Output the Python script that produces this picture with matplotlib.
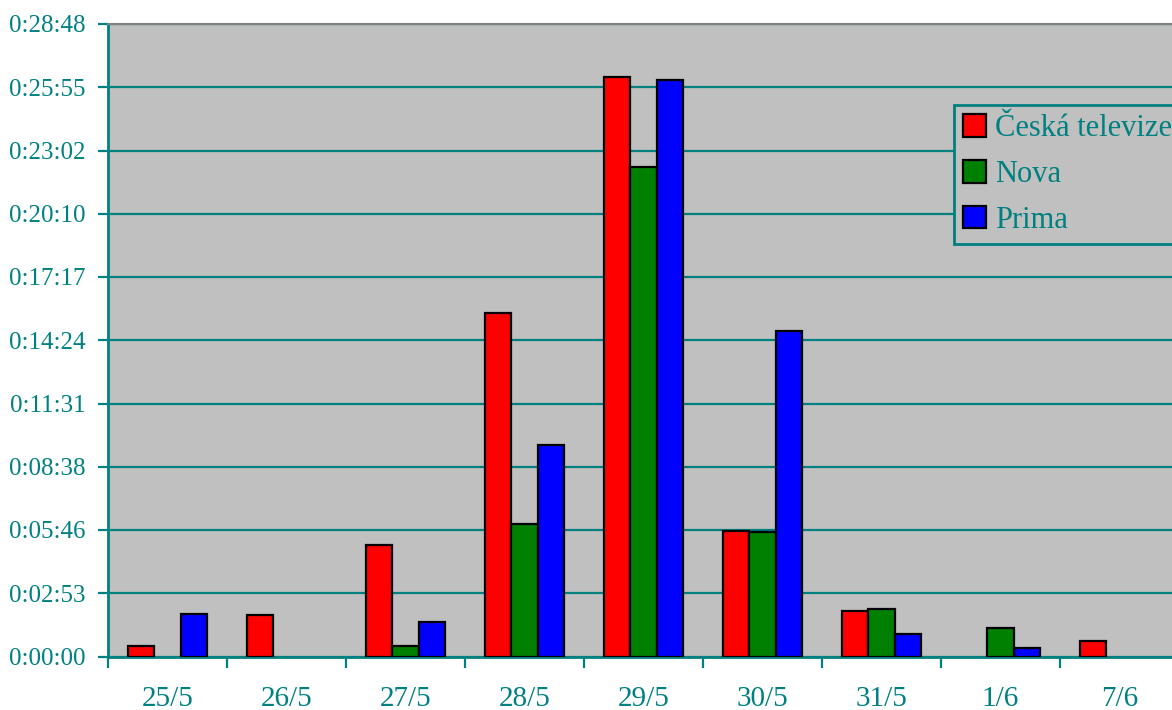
import matplotlib
matplotlib.use('Agg')
import matplotlib.pyplot as plt
from matplotlib.ticker import FixedLocator, FuncFormatter
import numpy as np

# seconds of airtime per day
days = ['25/5', '26/5', '27/5', '28/5', '29/5', '30/5', '31/5', '1/6', '7/6']
ceska = [29, 113, 304, 938, 1582, 343, 124, 0, 43]
nova = [0, 0, 29, 363, 1338, 339, 131, 77, 0]
prima = [115, 0, 94, 577, 1575, 888, 61, 24, 0]

teal = '#008080'
plt.rcParams['font.family'] = ['Liberation Serif', 'DejaVu Serif']

fig = plt.figure(figsize=(11.72, 7.1), dpi=100)
ax = fig.add_axes([108 / 1172, 1 - 656.5 / 710, 1071 / 1172, 632.5 / 710])
ax.set_facecolor('#C0C0C0')

x = np.arange(len(days))
w = 0.224
for off, vals, col, lab in [(-w, ceska, '#FF0000', 'Česká televize'),
                            (0, nova, '#008000', 'Nova'),
                            (w, prima, '#0000FF', 'Prima')]:
    v = np.array(vals, dtype=float)
    v[v == 0] = np.nan  # empty days: no bar at all
    ax.bar(x + off, v, w, color=col, edgecolor='black', linewidth=1.6,
           label=lab, zorder=3)

ax.set_xlim(-0.5, len(days) - 0.5)
ax.set_ylim(0, 1728)
yt = [i * 172.8 for i in range(11)]
ax.yaxis.set_major_locator(FixedLocator(yt))


def fmt(v, pos):
    s = int(round(v))
    return f'{s // 3600}:{(s % 3600) // 60:02d}:{s % 60:02d}'


ax.yaxis.set_major_formatter(FuncFormatter(fmt))
ax.grid(axis='y', color=teal, linewidth=1.6, zorder=1)

ax.set_xticks(x)
ax.set_xticklabels(days)
ax.set_xticks(np.arange(len(days) + 1) - 0.5, minor=True)
ax.tick_params(axis='x', which='major', length=0, pad=21, labelsize=21, labelcolor=teal)
ax.tick_params(axis='x', which='minor', length=8, width=1.6, color=teal, direction='out')
ax.tick_params(axis='y', length=7, width=1.6, color=teal, labelsize=18, labelcolor=teal, pad=9)

for s in ['left', 'bottom']:
    ax.spines[s].set_color(teal)
    ax.spines[s].set_linewidth(2)
ax.spines['top'].set_color('#808080')
ax.spines['top'].set_linewidth(1.5)
ax.spines['right'].set_visible(False)

leg = ax.legend(loc='upper left', bbox_to_anchor=(954 / 1172, 1 - 105 / 710),
                bbox_transform=fig.transFigure, fontsize=22, frameon=True,
                fancybox=False, handlelength=0.75, handleheight=0.75,
                handletextpad=0.3, labelspacing=0.55, borderpad=0.3,
                borderaxespad=0)
leg.get_frame().set_facecolor('#C0C0C0')
leg.get_frame().set_edgecolor(teal)
leg.get_frame().set_linewidth(2)
leg.get_frame().set_alpha(1)
for t in leg.get_texts():
    t.set_color(teal)

fig.savefig('out.png', dpi=100)
